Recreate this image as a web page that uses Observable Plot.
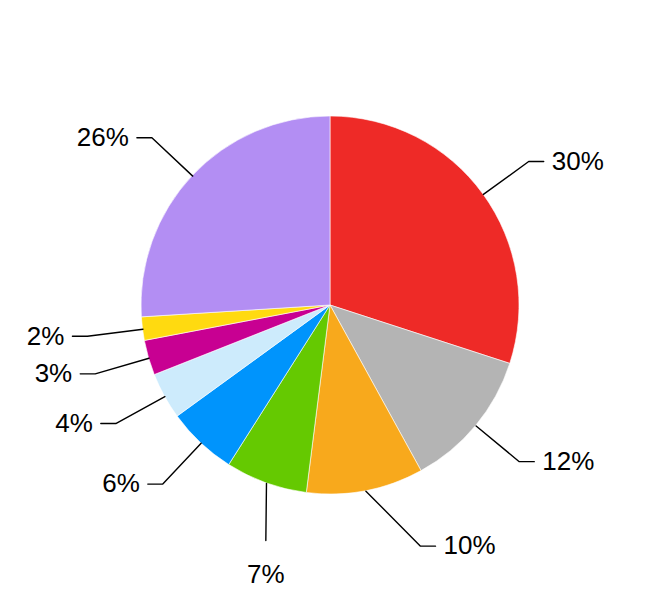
<!DOCTYPE html>
<html>
<head>
<meta charset="utf-8">
<script src="https://cdn.jsdelivr.net/npm/d3@7"></script>
<script src="https://cdn.jsdelivr.net/npm/@observablehq/plot@0.6"></script>
<style>
  html, body { margin: 0; padding: 0; background: #ffffff; }
  #chart { width: 660px; height: 610px; }
</style>
</head>
<body>
<div id="chart"></div>
<script>
// ---- data (clockwise from 12 o'clock) ----
const shares = [30, 12, 10, 7, 6, 4, 3, 2, 26];
const labels = ["30%", "12%", "10%", "7%", "6%", "4%", "3%", "2%", "26%"];
const colors = ["#EE2A27", "#B4B4B4", "#F8A91C", "#65C901", "#0094FC", "#CDEBFC", "#C80092", "#FFDA10", "#B38EF3"];

// ---- layout ----
const W = 660, H = 610;
const R = 189;          // pie radius (data units = px)
const R2 = 245;         // elbow radius for leader lines
const SEG = 15;         // horizontal leader segment length
const MIN_X = 90;       // keep side labels clear of the bottom centre

const arcs = d3.pie().sort(null).value(d => d)(shares);
const slices = arcs.map((a, i) => {
  const mid = (a.startAngle + a.endAngle) / 2;
  const sx = Math.sin(mid), sy = -Math.cos(mid);
  const edge = [sx * R, sy * R];
  let side = sx >= 0 ? "right" : "left";
  if (sx < 0 && sy > 0.9) side = "bottom";
  let elbow, end;
  if (side === "bottom") {
    elbow = [edge[0] * 1.01, R + 46];
    end = elbow;
  } else {
    let ex = sx * R2, ey = sy * R2;
    if (Math.abs(ex) < MIN_X) ex = Math.sign(sx) * MIN_X;
    elbow = [ex, ey];
    end = [ex + (side === "right" ? SEG : -SEG), ey];
  }
  return {i, a, mid, edge, elbow, end, side, label: labels[i], color: colors[i]};
});

const leaderPts = slices.flatMap(s => [
  {k: s.i, x: s.edge[0], y: s.edge[1]},
  {k: s.i, x: s.elbow[0], y: s.elbow[1]},
  {k: s.i, x: s.end[0], y: s.end[1]}
]);

const arcGen = d3.arc();
const wedgeMark = (index, scales) => {
  const g = d3.create("svg:g");
  const cx = scales.x(0), cy = scales.y(0);
  const rp = Math.abs(scales.x(R) - scales.x(0));
  g.attr("transform", `translate(${cx},${cy})`);
  g.selectAll("path")
    .data(slices)
    .join("path")
    .attr("d", s => arcGen({innerRadius: 0, outerRadius: rp, startAngle: s.a.startAngle, endAngle: s.a.endAngle}))
    .attr("fill", s => s.color)
    .attr("stroke", "#ffffff")
    .attr("stroke-width", 0.6)
    .attr("stroke-linejoin", "round");
  return g.node();
};

const font = "'Liberation Sans', Arial, Helvetica, sans-serif";
const textOpts = {fontSize: 26, fontFamily: font, fill: "#000000"};

const chart = Plot.plot({
  width: W,
  height: H,
  marginTop: 0, marginRight: 0, marginBottom: 0, marginLeft: 0,
  x: {domain: [-W / 2, W / 2], axis: null},
  y: {domain: [-H / 2, H / 2], reverse: true, axis: null},
  style: {background: "#ffffff", fontFamily: font},
  marks: [
    wedgeMark,
    Plot.line(leaderPts, {x: "x", y: "y", z: "k", stroke: "#000000", strokeWidth: 1.4, strokeLinejoin: "miter", curve: "linear"}),
    Plot.text(slices.filter(s => s.side === "right"), {x: s => s.end[0], y: s => s.end[1], text: "label", textAnchor: "start", dx: 8, ...textOpts}),
    Plot.text(slices.filter(s => s.side === "left"), {x: s => s.end[0], y: s => s.end[1], text: "label", textAnchor: "end", dx: -8, ...textOpts}),
    Plot.text(slices.filter(s => s.side === "bottom"), {x: s => s.end[0], y: s => s.end[1] + 34, text: "label", textAnchor: "middle", ...textOpts})
  ]
});

document.getElementById("chart").appendChild(chart);
</script>
</body>
</html>
